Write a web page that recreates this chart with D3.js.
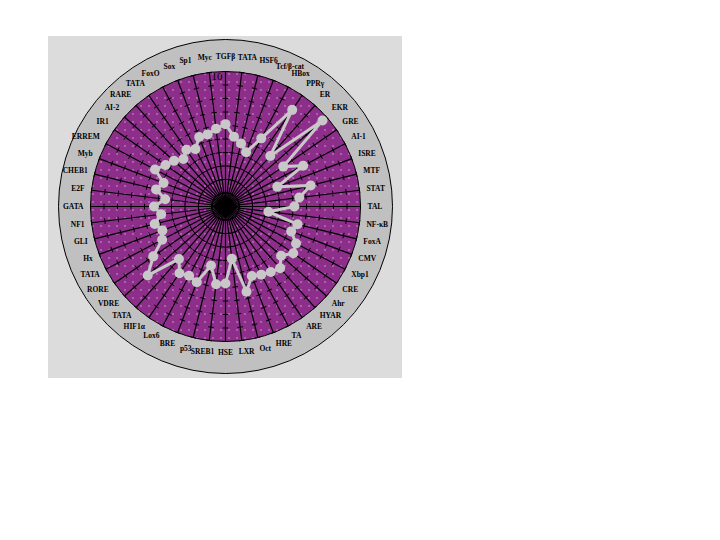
<!DOCTYPE html>
<html><head><meta charset="utf-8">
<script src="https://cdn.jsdelivr.net/npm/d3@7"></script>
<style>body{margin:0;background:#fff}svg{display:block}</style>
</head><body>
<svg id="chart" width="720" height="540"></svg>
<script>
const labels = ["TGFβ","TATA","HSF6","Tcf/β-cat","HBox","PPRγ","ER","EKR","GRE","AI-1","ISRE","MTF","STAT","TAL","NF-κB","FoxA","CMV","Xbp1","CRE","Ahr","HYAR","ARE","TA","HRE","Oct","LXR","HSE","SREB1","p53","BRE","Lox6","HIF1α","TATA","VDRE","RORE","TATA","Hx","GLI","NF1","GATA","E2F","CHEB1","Myb","ERREM","IR1","AI-2","RARE","TATA","FoxO","Sox","Sp1","Myc"];
const values = [6.1,5.2,4.8,4.3,5.7,8.7,5.0,9.6,5.2,6.5,4.1,6.5,5.5,5.1,3.2,5.5,5.2,5.9,6.1,5.5,6.1,5.9,5.7,5.5,6.5,3.9,5.7,5.8,4.5,6.0,5.8,6.0,5.2,7.7,6.5,5.3,5.0,5.4,4.8,5.3,4.5,5.3,4.9,5.9,5.4,5.1,4.7,5.1,4.8,5.5,5.5,5.8];
const radialTicks = [1,2,3,4,5,6,7,8,9,10];
const maxLabel = "10";

const svg = d3.select("#chart");
const cx = 225.5, cy = 206.5, R = 135, Rout = 167;

svg.append("rect").attr("x",48).attr("y",36).attr("width",354).attr("height",342).attr("fill","#dcdcdc");

const defs = svg.append("defs");
const pat = defs.append("pattern").attr("id","dots").attr("patternUnits","userSpaceOnUse")
  .attr("width",8).attr("height",8);
pat.append("rect").attr("width",8).attr("height",8).attr("fill","#8c2e8a");
pat.append("rect").attr("x",3).attr("y",3).attr("width",1).attr("height",1).attr("fill","#ffffff");

const g = svg.append("g").attr("transform",`translate(${cx},${cy})`);
g.append("circle").attr("r",Rout).attr("fill","#c0c0c0").attr("stroke","#000").attr("stroke-width",1);
g.append("circle").attr("r",R).attr("fill","url(#dots)").attr("stroke","#000").attr("stroke-width",1);

const ang = d3.scaleLinear().domain([0,labels.length]).range([0,2*Math.PI]);
const rad = d3.scaleLinear().domain([0,10]).range([0,R]);
const px = (i,v)=> rad(v)*Math.sin(ang(i));
const py = (i,v)=> -rad(v)*Math.cos(ang(i));

// spokes
g.selectAll("line.spoke").data(labels).join("line").attr("class","spoke")
  .attr("x1",0).attr("y1",0)
  .attr("x2",(d,i)=>px(i,10)).attr("y2",(d,i)=>py(i,10))
  .attr("stroke","#000").attr("stroke-width",1.2);

// ticks on spokes
const tl = 2.8;
labels.forEach((d,i)=>{
  const a = ang(i);
  const nx = Math.cos(a), ny = Math.sin(a);
  g.selectAll(null).data(radialTicks).join("line")
    .attr("x1",v=>px(i,v)-nx*tl).attr("y1",v=>py(i,v)-ny*tl)
    .attr("x2",v=>px(i,v)+nx*tl).attr("y2",v=>py(i,v)+ny*tl)
    .attr("stroke","#000").attr("stroke-width",1);
});

// center diamond
g.append("path").attr("d",`M0,-12L13,0L0,12L-13,0Z`).attr("fill","#000");

// max label
g.append("text").attr("x",px(0,10)-14).attr("y",py(0,10)+8)
  .attr("font-family","Liberation Serif").attr("font-size",11).attr("fill","#000").text(maxLabel);

// series
const line = d3.lineRadial().angle((d,i)=>ang(i)).radius(d=>rad(d)).curve(d3.curveLinearClosed);
g.append("path").attr("d",line(values)).attr("fill","none").attr("stroke","#c8c8c8").attr("stroke-width",3);
g.selectAll("circle.pt").data(values).join("circle").attr("class","pt")
  .attr("cx",(d,i)=>px(i,d)).attr("cy",(d,i)=>py(i,d)).attr("r",5).attr("fill","#c8c8c8");

// category labels
const LR = 142;
const labs = g.selectAll("text.lab").data(labels).join("text").attr("class","lab")
  .attr("text-anchor","start")
  .attr("dominant-baseline","central")
  .attr("font-family","Liberation Serif").attr("font-weight","bold").attr("font-size",7.5)
  .attr("fill","#000").text(d=>d);
labs.each(function(d,i){
  const a = ang(i), s = Math.sin(a), c = Math.cos(a);
  const w = this.getComputedTextLength();
  const f = Math.max(0, Math.min(1, 0.5 - s/0.24*0.5));
  d3.select(this)
    .attr("x", LR*s - f*w)
    .attr("y", -LR*c - (c>0 ? c*8 : c*4));
});
</script>
</body></html>
